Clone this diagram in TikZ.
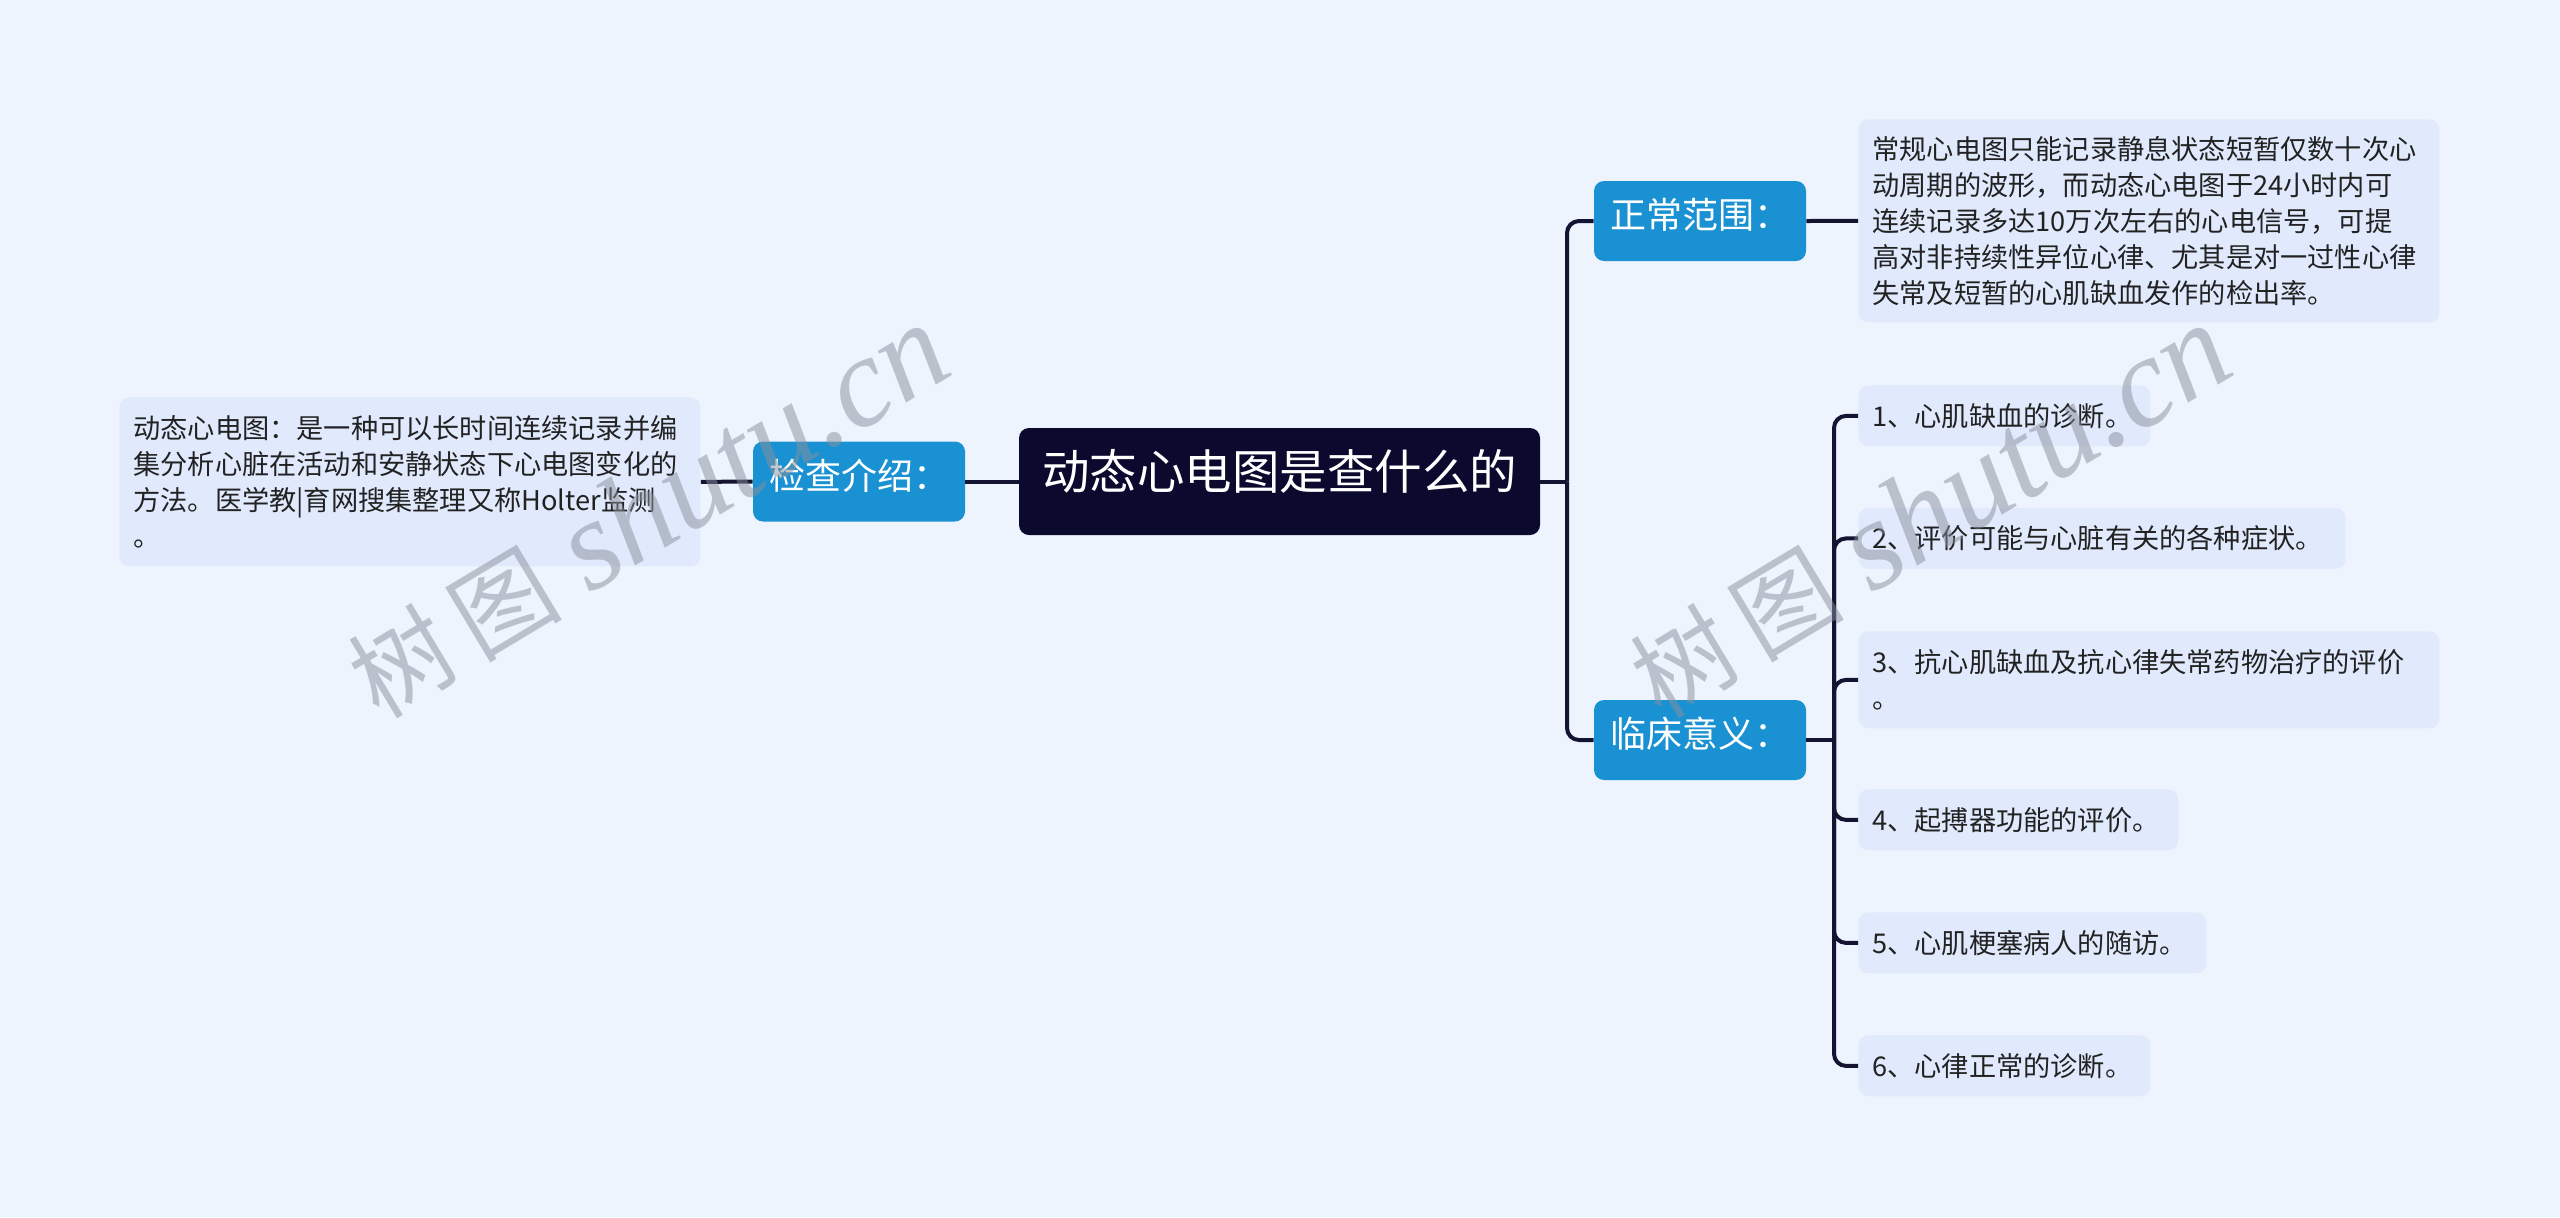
\documentclass[tikz,border=0pt]{standalone}
\usepackage{fontspec}
\setmainfont{Noto Sans CJK SC}
\newfontfamily\wmserif{Liberation Serif}
\definecolor{bg}{HTML}{EEF4FE}
\definecolor{rootc}{HTML}{0B0A2E}
\definecolor{bluec}{HTML}{1A91D2}
\definecolor{leafc}{HTML}{E0EAFC}
\definecolor{linec}{HTML}{141432}
\definecolor{txtc}{HTML}{222222}
\definecolor{wmc}{HTML}{8A909C}
\tikzset{
  rootbox/.style={fill=rootc, text=white, rounded corners=5pt, minimum width=260.5pt, minimum height=53.5pt, inner sep=0pt, font=\fontsize{23.75}{28}\selectfont, text height=0.85em, text depth=0.1em},
  labelbox/.style={fill=bluec, text=white, rounded corners=5pt, minimum width=106pt, minimum height=40pt, inner sep=0pt, font=\fontsize{18}{21}\selectfont, text height=0.85em, text depth=0.1em},
  leafbox/.style={fill=leafc, text=txtc, rounded corners=5pt, anchor=north west, inner xsep=7pt, inner ysep=0pt, align=left, font=\fontsize{13.6}{18}\selectfont},
  conn/.style={draw=linec, line width=2pt, rounded corners=6pt},
  wm/.style={text=wmc, text opacity=0.5, inner sep=0pt, rotate=31},
}
\begin{document}
\begin{tikzpicture}[x=0.5pt,y=-0.5pt]
\fill[bg] (0,0) rectangle (2560,1217);
\useasboundingbox (0,0) rectangle (2560,1217);

% nodes
\node[rootbox] (root) at (1279.5,481.5) {动态心电图是查什么的};
\node[labelbox] (jc) at (859,481.5) {检查介绍：};
\node[leafbox, text width=276.5pt, minimum height=84.5pt] (jt) at (119,397) {动态心电图：是一种可以长时间连续记录并编\\集分析心脏在活动和安静状态下心电图变化的\\方法。医学教|育网搜集整理又称Holter监测\\。};
\node[labelbox] (zc) at (1700,221) {正常范围：};
\node[leafbox, text width=276.5pt, minimum height=101.5pt] (zt) at (1858,119) {常规心电图只能记录静息状态短暂仅数十次心\\动周期的波形，而动态心电图于24小时内可\\连续记录多达10万次左右的心电信号，可提\\高对非持续性异位心律、尤其是对一过性心律\\失常及短暂的心肌缺血发作的检出率。};
\node[labelbox] (lc) at (1700,740) {临床意义：};
\node[leafbox, text width=132pt, minimum height=30.5pt] (i1) at (1858,385) {1、心肌缺血的诊断。};
\node[leafbox, text width=229.5pt, minimum height=30.5pt] (i2) at (1858,507.5) {2、评价可能与心脏有关的各种症状。};
\node[leafbox, text width=276.5pt, minimum height=48.5pt] (i3) at (1858,631) {3、抗心肌缺血及抗心律失常药物治疗的评价\\。};
\node[leafbox, text width=146pt, minimum height=30.5pt] (i4) at (1858,789) {4、起搏器功能的评价。};
\node[leafbox, text width=160pt, minimum height=30.5pt] (i5) at (1858,912) {5、心肌梗塞病人的随访。};
\node[leafbox, text width=132pt, minimum height=30.5pt] (i6) at (1858,1035) {6、心律正常的诊断。};

% connectors
\coordinate (t1) at (1567,481.5);
\coordinate (t2) at (1834,740);
\draw[conn] (jt.east) -- (jc.west);
\draw[conn] (jc.east) -- (root.west);
\draw[conn] (root.east) -- (t1);
\draw[conn] (t1) |- (zc.west);
\draw[conn] (t1) |- (lc.west);
\draw[conn] (zc.east) -- (zt.west);
\draw[conn] (lc.east) -- (t2);
\foreach \i in {i1,i2,i3,i4,i5,i6} \draw[conn] (t2) |- (\i.west);

% watermarks
\node[wm] (wm1) at (648,512) {{\fontsize{50}{50}\selectfont 树\hspace{8pt}图}\hspace{14pt}{\wmserif\itshape\fontsize{64}{64}\selectfont shutu.cn}};
\node[wm] (wm2) at (1930,512) {{\fontsize{50}{50}\selectfont 树\hspace{8pt}图}\hspace{14pt}{\wmserif\itshape\fontsize{64}{64}\selectfont shutu.cn}};
\end{tikzpicture}
\end{document}
